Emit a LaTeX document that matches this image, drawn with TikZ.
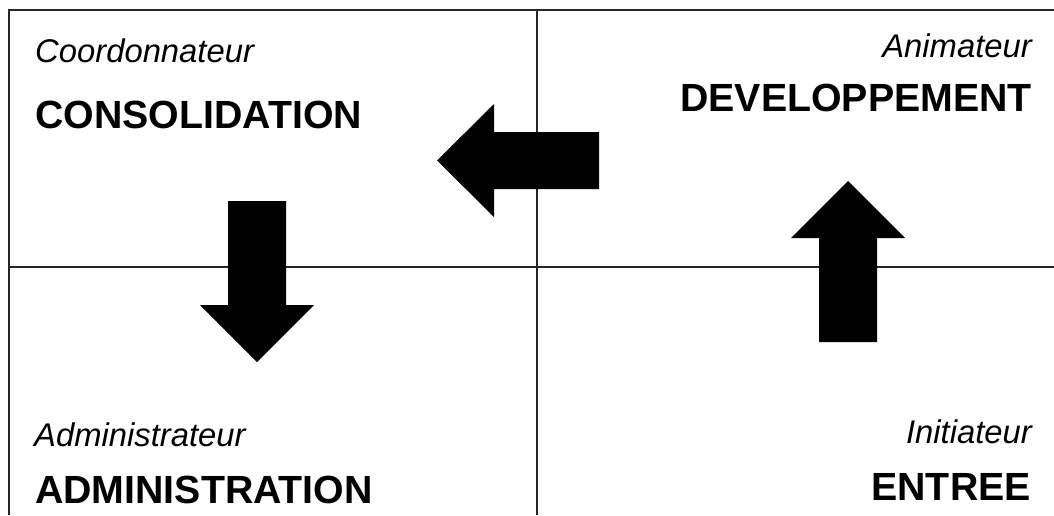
\documentclass[tikz,border=0pt]{standalone}
\usepackage{fontspec}
\setmainfont{Liberation Sans}
\begin{document}
\begin{tikzpicture}[x=1pt,y=-1pt,
  role/.style={inner sep=0pt,font=\fontsize{32.8}{36}\selectfont\itshape},
  stage/.style={inner sep=0pt,font=\fontsize{39.3}{44}\selectfont\bfseries},
  grid/.style={line width=1.8pt,color=black!85},
  bigarrow/.style={fill=black,draw=none}]
\useasboundingbox (0,0) rectangle (1054,515);
% grid lines
\draw[grid] (9,515) -- (9,10) -- (1054,10);
\draw[grid] (9,267) -- (1054,267);
\draw[grid] (537,10) -- (537,515);
% arrows
\fill[bigarrow] (599,132) -- (494,132) -- (494,104) -- (437,160.5) -- (494,217) -- (494,189) -- (599,189) -- cycle;
\fill[bigarrow] (228,201) -- (286,201) -- (286,305) -- (314,305) -- (257,362) -- (200,305) -- (228,305) -- cycle;
\fill[bigarrow] (819,342) -- (877,342) -- (877,238) -- (905,238) -- (848,181) -- (791,238) -- (819,238) -- cycle;
% texts
\node[role,anchor=base west] (r1) at (35,62) {Coordonnateur};
\node[stage,anchor=base west] (s1) at (35,128) {CONSOLIDATION};
\node[role,anchor=base east] (r2) at (1032,57) {Animateur};
\node[stage,anchor=base east] (s2) at (1032,111) {DEVELOPPEMENT};
\node[role,anchor=base west] (r3) at (34,446) {Administrateur};
\node[stage,anchor=base west] (s3) at (35,503) {ADMINISTRATION};
\node[role,anchor=base east] (r4) at (1032,443) {Initiateur};
\node[stage,anchor=base east] (s4) at (1031,500) {ENTREE};
\end{tikzpicture}
\end{document}
